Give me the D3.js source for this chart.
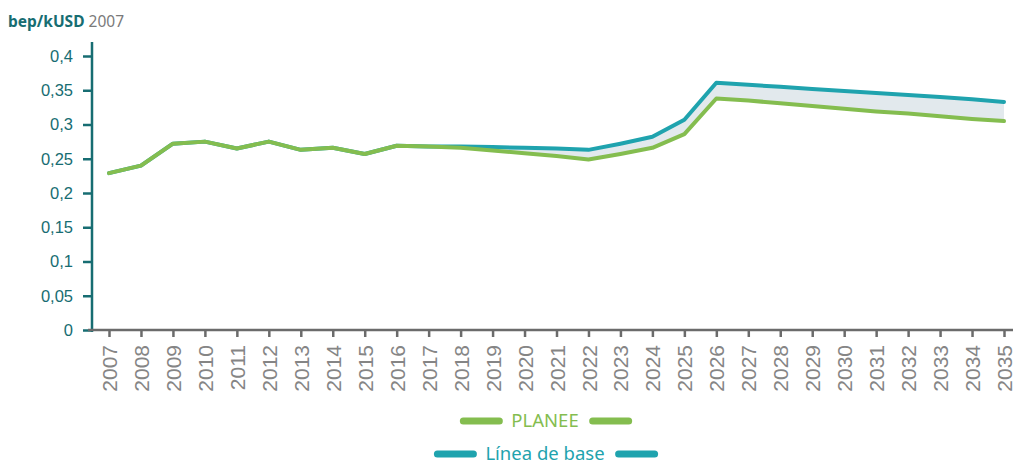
<!DOCTYPE html>
<html>
<head>
<meta charset="utf-8">
<script src="https://cdn.jsdelivr.net/npm/d3@7"></script>
<style>
  body { margin: 0; background: #fff; }
  svg { display: block; font-family: "Noto Sans", Lato, sans-serif; }
</style>
</head>
<body>
<svg width="1017" height="473"></svg>
<script>
// data
const years = d3.range(2007, 2036)
const planee = [0.229, 0.240, 0.272, 0.275, 0.265, 0.275, 0.263, 0.266, 0.257, 0.269,
  0.268, 0.266, 0.262, 0.258, 0.254, 0.249, 0.257, 0.266, 0.286, 0.338,
  0.335, 0.331, 0.327, 0.323, 0.319, 0.316, 0.312, 0.308, 0.305]
const base = [0.229, 0.240, 0.272, 0.275, 0.265, 0.275, 0.263, 0.266, 0.257, 0.269,
  0.268, 0.268, 0.267, 0.266, 0.265, 0.263, 0.272, 0.282, 0.307, 0.361,
  0.358, 0.355, 0.352, 0.349, 0.346, 0.343, 0.340, 0.337, 0.333]
const yTicks = [0, 0.05, 0.1, 0.15, 0.2, 0.25, 0.3, 0.35, 0.4]
const seriesNames = ['PLANEE', 'Línea de base']

const green = '#84bd4f', teal = '#1fa3ae', dark = '#176d72', grey = '#7a7a7a'

const svg = d3.select('svg')
const x = d3.scaleLinear().domain([2007, 2035]).range([109, 1004])
const y = d3.scaleLinear().domain([0, 0.4]).range([330, 56])
const fmt = d => String(d).replace('.', ',')

const rows = years.map((yr, i) => ({ yr, p: planee[i], b: base[i] }))

// shaded gap between the two series
svg.append('path')
  .datum(rows)
  .attr('fill', '#e2e9ed')
  .attr('d', d3.area().x(d => x(d.yr)).y0(d => y(d.p)).y1(d => y(d.b)))

// y axis
const yAxis = svg.append('g')
  .attr('transform', 'translate(92,0)')
  .call(d3.axisLeft(y).tickValues(yTicks).tickFormat(fmt).tickSize(9).tickPadding(10))
yAxis.select('.domain').remove()
yAxis.append('line').attr('x1', 0).attr('x2', 0).attr('y1', 42).attr('y2', 332)
  .attr('stroke', dark).attr('stroke-width', 2.5)
yAxis.selectAll('.tick line').attr('stroke', dark).attr('stroke-width', 2.5)
yAxis.selectAll('.tick text').attr('fill', dark).attr('font-size', 16.5)

// x axis
const xAxis = svg.append('g')
  .attr('transform', 'translate(0,330)')
  .call(d3.axisBottom(x).tickValues(years).tickFormat(d3.format('d')).tickSize(7).tickSizeOuter(0))
xAxis.select('.domain').attr('d', 'M88,0H1013').attr('stroke', '#6b6b6b').attr('stroke-width', 2.5)
xAxis.selectAll('.tick line').attr('stroke', '#6b6b6b').attr('stroke-width', 2.5)
xAxis.selectAll('.tick text')
  .attr('fill', '#858585').attr('font-size', 21)
  .attr('font-family', '"Liberation Sans", Arial, sans-serif')
  .attr('text-anchor', 'end')
  .attr('transform', 'rotate(-90)')
  .attr('x', -15).attr('y', 0).attr('dy', '0.36em')

// lines
const line = key => d3.line().x(d => x(d.yr)).y(d => y(d[key]))
svg.append('path').datum(rows)
  .attr('fill', 'none').attr('stroke', teal).attr('stroke-width', 4)
  .attr('stroke-linejoin', 'round').attr('stroke-linecap', 'round')
  .attr('d', line('b'))
svg.append('path').datum(rows)
  .attr('fill', 'none').attr('stroke', green).attr('stroke-width', 4)
  .attr('stroke-linejoin', 'round').attr('stroke-linecap', 'round')
  .attr('d', line('p'))

// unit label
const title = svg.append('text').attr('x', 8).attr('y', 27).attr('font-size', 15.5)
title.append('tspan').attr('fill', dark).attr('font-weight', 'bold').text('bep/kUSD')
title.append('tspan').attr('fill', grey).text(' 2007')

// legend
const legend = [
  { name: seriesNames[0], color: green, cy: 421 },
  { name: seriesNames[1], color: teal, cy: 454 }
]
legend.forEach(l => {
  const g = svg.append('g')
  const t = g.append('text').attr('x', 545).attr('y', l.cy).attr('dy', '0.35em')
    .attr('text-anchor', 'middle').attr('fill', l.color).attr('font-size', 18.5).text(l.name)
  const w = t.node().getComputedTextLength()
  const left = 545 - w / 2, right = 545 + w / 2
  g.append('line').attr('x1', left - 48).attr('x2', left - 12).attr('y1', l.cy).attr('y2', l.cy)
    .attr('stroke', l.color).attr('stroke-width', 7).attr('stroke-linecap', 'round')
  g.append('line').attr('x1', right + 14).attr('x2', right + 50).attr('y1', l.cy).attr('y2', l.cy)
    .attr('stroke', l.color).attr('stroke-width', 7).attr('stroke-linecap', 'round')
})
</script>
</body>
</html>
